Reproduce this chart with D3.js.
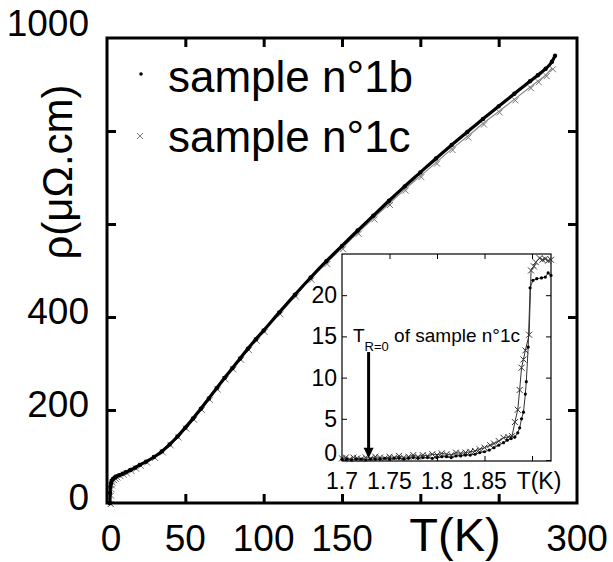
<!DOCTYPE html>
<html><head><meta charset="utf-8">
<script src="https://cdn.jsdelivr.net/npm/d3@7"></script>
<style>body{margin:0;background:#fff}svg{display:block}text{font-family:"Liberation Sans",Arial,sans-serif;fill:#000}</style>
</head><body><svg id="c" width="613" height="562"></svg>
<script>
// ---------- data ----------
const mainT_b   = [1.7,1.9,2.0,2.2,2.5,3,4,5,6,8,10,12,15,18,21,25,30,35,40,45,50,55,60,65,70,75,80,85,90,95,100,110,120,130,140,150,160,170,180,190,200,210,220,230,240,250,260,270,275,280,284,286];
const mainRho_b = [0,0,22,35,42,48,52,55,57,60,63,66,71,76,82,89,99,111,126,143,162,182,203,225,247,269,290,311,332,352,371,410,448,485,520,553,586,618,650,681,711,741,770,798,826,853,880,907,920,934,949,962];
const mainT_c   = [1.7,1.9,2.0,2.2,2.5,3,4,5,6,8,10,12,15,18,21,25,30,35,40,45,50,55,60,65,70,75,80,85,90,95,100,110,120,130,140,150,160,170,180,190,200,210,220,230,240,250,260,270,275,280,284];
const mainRho_c = [0,0,18,32,40,46,51,54,57,60,63,66,71,76,82,89,99,111,126,143,162,181,202,224,246,268,289,310,331,351,370,408,446,482,516,548,581,612,643,674,703,732,761,788,816,842,868,894,907,920,935];

const insetT_b   = [1.700,1.705,1.710,1.715,1.720,1.725,1.730,1.735,1.740,1.745,1.750,1.755,1.760,1.765,1.770,1.775,1.780,1.785,1.790,1.795,1.800,1.805,1.810,1.815,1.820,1.825,1.830,1.835,1.840,1.845,1.850,1.855,1.860,1.865,1.870,1.874,1.878,1.882,1.885,1.887,1.889,1.891,1.893,1.894,1.896,1.898,1.901,1.905,1.910,1.914,1.917,1.920];
const insetRho_b = [0.1,0.1,0.0,0.1,0.1,0.0,0.1,0.1,0.1,0.2,0.1,0.2,0.2,0.1,0.2,0.3,0.2,0.3,0.3,0.2,0.3,0.4,0.4,0.3,0.5,0.5,0.6,0.6,0.7,0.9,1.0,1.2,1.5,1.8,2.1,2.4,2.6,2.8,3.3,3.9,5.0,5.8,8.0,9.5,13.7,20.9,21.8,22.0,22.1,22.2,22.7,22.4];
const insetT_c   = [1.700,1.704,1.708,1.712,1.716,1.720,1.725,1.730,1.735,1.740,1.745,1.750,1.755,1.760,1.765,1.770,1.775,1.780,1.785,1.790,1.795,1.800,1.805,1.810,1.815,1.820,1.825,1.830,1.835,1.840,1.845,1.850,1.856,1.860,1.865,1.870,1.875,1.879,1.882,1.885,1.887,1.889,1.891,1.893,1.897,1.899,1.902,1.904,1.908,1.911,1.914,1.917,1.920];
const insetRho_c = [0.2,0.3,0.1,0.3,0.2,0.1,0.3,0.2,0.4,0.3,0.2,0.4,0.3,0.5,0.3,0.4,0.6,0.4,0.6,0.5,0.7,0.6,0.8,0.7,0.6,0.9,0.8,0.9,1.0,1.1,1.3,1.5,1.8,2.0,2.3,2.7,2.8,2.9,4.6,6.1,8.5,11.2,12.2,13.3,15.2,23.0,23.5,24.0,24.5,24.3,24.4,24.2,24.3];

const mainXTicks  = [50,100,150,200,250];
const mainYTicks  = [200,400,600,800];
const mainXLabels = [0,50,100,150,300];
const mainYLabels = [0,200,400,1000];
const insetXTicks  = [1.75,1.8,1.85,1.9];
const insetYTicks  = [0,5,10,15,20];
const insetXLabels = [1.7,1.75,1.8,1.85];
const insetYLabels = [0,5,10,15,20];
const legendNames = ["sample n\u00b01b","sample n\u00b01c"];
const tR0 = 1.728;

// ---------- drawing ----------
const svg = d3.select("#c");
svg.append("rect").attr("width",613).attr("height",562).attr("fill","#fff");

const x = d3.scaleLinear().domain([0,300]).range([107,577]);
const y = d3.scaleLinear().domain([0,1000]).range([503,38]);

const zip = (a,b)=>a.map((v,i)=>[v,b[i]]);
const dataB = zip(mainT_b, mainRho_b), dataC = zip(mainT_c, mainRho_c);

// curves
const line = d3.line().x(d=>x(d[0])).y(d=>y(d[1])).curve(d3.curveMonotoneX);
svg.append("path").attr("d",line(dataC)).attr("fill","none").attr("stroke","#888").attr("stroke-width",1.2);
const crossPath = s => `M${-s},${-s}L${s},${s}M${-s},${s}L${s},${-s}`;
svg.append("g").selectAll("path").data(dataC).join("path")
  .attr("transform",d=>`translate(${x(d[0])+1},${y(d[1])+1})`)
  .attr("d",crossPath(3)).attr("stroke","#777").attr("stroke-width",1).attr("fill","none");
svg.append("path").attr("d",line(dataB)).attr("fill","none").attr("stroke","#000").attr("stroke-width",3.2);
svg.append("g").selectAll("circle").data(dataB).join("circle")
  .attr("cx",d=>x(d[0])).attr("cy",d=>y(d[1])).attr("r",2.2).attr("fill","#000");

// frame
svg.append("rect").attr("x",107).attr("y",38).attr("width",470).attr("height",465)
  .attr("fill","none").attr("stroke","#000").attr("stroke-width",3);

function styleAxis(g){ g.select(".domain").remove(); g.selectAll("line").attr("stroke","#000"); }
const tickW = 3;
svg.append("g").attr("transform","translate(0,503)")
  .call(d3.axisBottom(x).tickValues(mainXTicks).tickSize(-9).tickFormat(""))
  .call(styleAxis).selectAll("line").attr("stroke-width",tickW);
svg.append("g").attr("transform","translate(0,38)")
  .call(d3.axisTop(x).tickValues(mainXTicks).tickSize(-9).tickFormat(""))
  .call(styleAxis).selectAll("line").attr("stroke-width",tickW);
svg.append("g").attr("transform","translate(107,0)")
  .call(d3.axisLeft(y).tickValues(mainYTicks).tickSize(-9).tickFormat(""))
  .call(styleAxis).selectAll("line").attr("stroke-width",tickW);
svg.append("g").attr("transform","translate(577,0)")
  .call(d3.axisRight(y).tickValues(mainYTicks).tickSize(-9).tickFormat(""))
  .call(styleAxis).selectAll("line").attr("stroke-width",tickW);

// tick labels
svg.append("g").selectAll("text").data(mainXLabels).join("text")
  .attr("x",d=>x(d)+(d===0?4:0)).attr("y",551).attr("text-anchor","middle").attr("font-size",37).text(d=>d);
svg.append("g").selectAll("text").data(mainYLabels).join("text")
  .attr("x",89).attr("y",d=>y(d)+(d===1000?-2:7)).attr("text-anchor","end").attr("font-size",37).text(d=>d);

// axis titles
svg.append("text").attr("x",455).attr("y",551).attr("text-anchor","middle").attr("font-size",47).text("T(K)");
svg.append("text").attr("transform","translate(72,172) rotate(-90)").attr("text-anchor","middle")
  .attr("font-size",42).text("\u03c1(\u03bc\u03a9.cm)");

// legend
const lg = svg.append("g");
lg.append("circle").attr("cx",141).attr("cy",74).attr("r",1.8).attr("fill","#000");
lg.append("path").attr("transform","translate(140,136)").attr("d",crossPath(3)).attr("stroke","#777").attr("stroke-width",1);
lg.selectAll("text").data(legendNames).join("text")
  .attr("x",168).attr("y",(d,i)=>92+i*60).attr("font-size",44).text(d=>d);

// ---------- inset ----------
const xi = d3.scaleLinear().domain([1.7,1.92]).range([342,551]);
const yi = d3.scaleLinear().domain([0,25]).range([460,254]);
const ins = svg.append("g");
ins.append("rect").attr("x",342).attr("y",254).attr("width",209).attr("height",207)
  .attr("fill","#fff").attr("stroke","#000").attr("stroke-width",1.2);

ins.append("g").attr("transform","translate(0,461)")
  .call(d3.axisBottom(xi).tickValues(insetXTicks).tickSize(-5).tickFormat("")).call(styleAxis);
ins.append("g").attr("transform","translate(0,254)")
  .call(d3.axisTop(xi).tickValues(insetXTicks).tickSize(-5).tickFormat("")).call(styleAxis);
ins.append("g").attr("transform","translate(342,0)")
  .call(d3.axisLeft(yi).tickValues(insetYTicks).tickSize(-5).tickFormat("")).call(styleAxis);
ins.append("g").attr("transform","translate(551,0)")
  .call(d3.axisRight(yi).tickValues(insetYTicks).tickSize(-5).tickFormat("")).call(styleAxis);

ins.append("g").selectAll("text").data(insetXLabels).join("text")
  .attr("x",d=>xi(d)).attr("y",489).attr("text-anchor","middle").attr("font-size",23).text(d=>d);
ins.append("text").attr("x",xi(1.9)+7).attr("y",489).attr("text-anchor","middle").attr("font-size",23).text("T(K)");
ins.append("g").selectAll("text").data(insetYLabels).join("text")
  .attr("x",337).attr("y",d=>yi(d)+(d===0?1:8)).attr("text-anchor","end").attr("font-size",23).text(d=>d);

const iline = d3.line().x(d=>xi(d[0])).y(d=>yi(d[1]));
const iB = zip(insetT_b,insetRho_b), iC = zip(insetT_c,insetRho_c);
ins.append("path").attr("d",iline(iC)).attr("fill","none").attr("stroke","#333").attr("stroke-width",1);
ins.append("path").attr("d",iline(iB)).attr("fill","none").attr("stroke","#333").attr("stroke-width",1);
ins.append("g").selectAll("path").data(iC).join("path")
  .attr("transform",d=>`translate(${xi(d[0])},${yi(d[1])})`)
  .attr("d",crossPath(3)).attr("stroke","#333").attr("stroke-width",1).attr("fill","none");
ins.append("g").selectAll("circle").data(iB).join("circle")
  .attr("cx",d=>xi(d[0])).attr("cy",d=>yi(d[1])).attr("r",1.6).attr("fill","#000");

// annotation
const ann = ins.append("text").attr("x",353).attr("y",342).attr("font-size",19);
ann.append("tspan").text("T");
ann.append("tspan").attr("font-size",13).attr("dy",9).text("R=0");
ann.append("tspan").attr("dy",-9).text(" of sample n\u00b01c");
const ax = xi(tR0);
ins.append("line").attr("x1",ax).attr("x2",ax).attr("y1",yi(13.1)).attr("y2",yi(1.3))
  .attr("stroke","#000").attr("stroke-width",3);
ins.append("path").attr("d",`M${ax-5},${yi(1.5)}L${ax+5},${yi(1.5)}L${ax},${yi(0.2)}Z`).attr("fill","#000");
</script></body></html>
